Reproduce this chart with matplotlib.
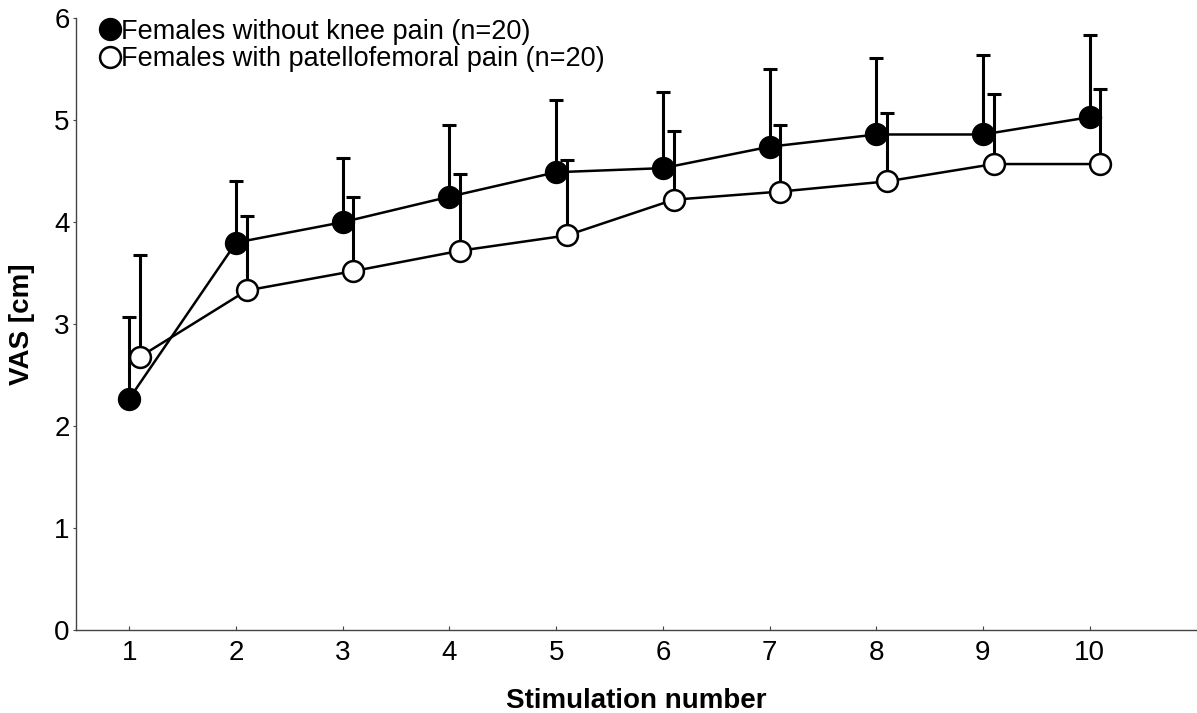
"""VAS over repeated stimulation, two groups of females."""

import matplotlib.pyplot as plt
from matplotlib.lines import Line2D

plt.rcParams["font.family"] = ["Liberation Sans", "DejaVu Sans"]

stim = [1, 2, 3, 4, 5, 6, 7, 8, 9, 10]

# females without knee pain (filled)
ctrl_mean = [2.27, 3.80, 4.00, 4.25, 4.49, 4.53, 4.74, 4.86, 4.86, 5.03]
ctrl_top = [3.07, 4.40, 4.63, 4.95, 5.20, 5.28, 5.50, 5.61, 5.64, 5.84]

# females with patellofemoral pain (open), drawn slightly to the right
pfp_mean = [2.68, 3.33, 3.52, 3.72, 3.87, 4.22, 4.30, 4.40, 4.57, 4.57]
pfp_top = [3.68, 4.06, 4.25, 4.47, 4.61, 4.89, 4.95, 5.07, 5.26, 5.31]
pfp_shift = 0.1

labels = ["Females without knee pain (n=20)",
          "Females with patellofemoral pain (n=20)"]

fig = plt.figure(figsize=(11.97, 7.13), dpi=100)
ax = fig.add_axes([0.0635, 0.1164, 0.936, 0.858])

ctrl_err = [[0] * len(stim), [t - m for t, m in zip(ctrl_top, ctrl_mean)]]
pfp_x = [s + pfp_shift for s in stim]
pfp_err = [[0] * len(stim), [t - m for t, m in zip(pfp_top, pfp_mean)]]

ax.errorbar(stim, ctrl_mean, yerr=ctrl_err, fmt="none", ecolor="black",
            elinewidth=2.2, capsize=5, capthick=2.2, zorder=2)
ax.errorbar(pfp_x, pfp_mean, yerr=pfp_err, fmt="none", ecolor="black",
            elinewidth=2.2, capsize=5, capthick=2.2, zorder=2)
ax.plot(stim, ctrl_mean, color="black", lw=1.8, marker="o", ms=15,
        mfc="black", mec="black", mew=1.8, zorder=3)
ax.plot(pfp_x, pfp_mean, color="black", lw=1.8, marker="o", ms=15,
        mfc="white", mec="black", mew=1.8, zorder=3)

ax.set_xlim(0.5, 11)
ax.set_ylim(0, 6)
ax.set_xticks(stim)
ax.set_yticks(range(7))
ax.spines["top"].set_visible(False)
ax.spines["right"].set_visible(False)
for side in ("left", "bottom"):
    ax.spines[side].set_linewidth(1.0)
    ax.spines[side].set_color("#444444")
ax.tick_params(axis="x", direction="in", length=3, labelsize=20, pad=7,
               color="#444444")
ax.tick_params(axis="y", direction="out", length=2.5, labelsize=20, pad=2,
               color="#444444")

ax.set_xlabel("Stimulation number", fontsize=20, fontweight="bold", labelpad=16)
ax.set_ylabel("VAS [cm]", fontsize=20, fontweight="bold", labelpad=14)

handles = [
    Line2D([], [], ls="none", marker="o", ms=15, mfc="black", mec="black", mew=1.8),
    Line2D([], [], ls="none", marker="o", ms=15, mfc="white", mec="black", mew=1.8),
]
ax.legend(handles, labels, loc="upper left", bbox_to_anchor=(0.011, 1.021),
          frameon=False, fontsize=19.5, handlelength=0.6, handletextpad=0.1,
          borderpad=0, labelspacing=0.05)

fig.savefig("out.png", dpi=100)
